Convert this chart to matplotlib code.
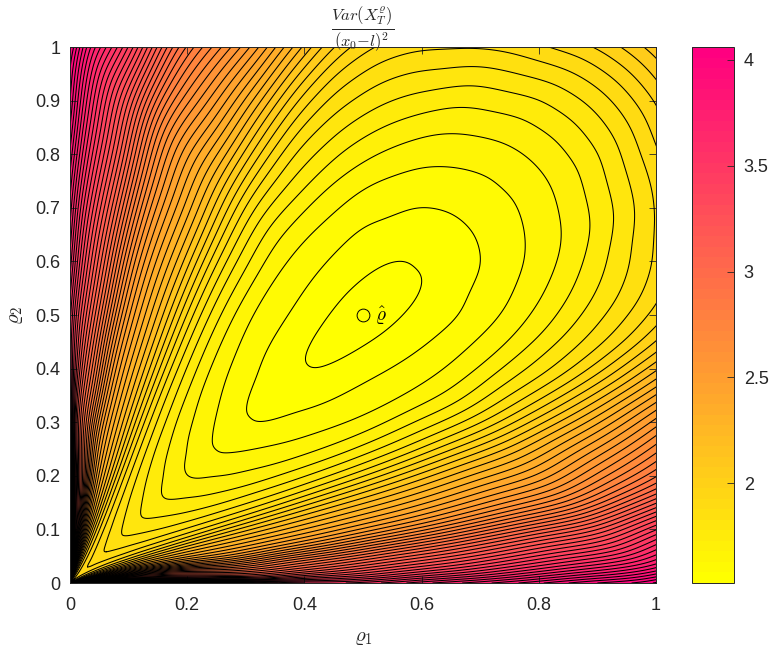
import numpy as np
import matplotlib
matplotlib.use('Agg')
import matplotlib.pyplot as plt
from matplotlib.colors import LinearSegmentedColormap, Normalize
from matplotlib.cm import ScalarMappable

plt.rcParams['font.family'] = ['Liberation Sans', 'DejaVu Sans']
plt.rcParams['mathtext.fontset'] = 'cm'

# values read along rays from the origin: mean of rho1, rho2 across,
# |rho2-rho1|/(rho1+rho2) down. the picture is close to mirror symmetric
mean_rho = [0, .03, .06, .1, .15, .2, .25, .3, .35, .4, .45, .5, .55, .6, .65, .7, .75, .8, .85, .9, .95, 1]
spread = [0, .03, .06, .1, .15, .2, .25, .3, .35, .4, .5, .6, .7, .8, .9, .95, 1]

r00 = [2.005,1.950,1.898,1.834,1.763,1.701,1.649,1.606,1.573,1.552,1.538,1.530,1.538,1.555,1.585,1.620,1.662,1.715,1.785,1.875,1.990,2.129]
r03 = [2.007,1.952,1.900,1.836,1.765,1.703,1.651,1.608,1.576,1.555,1.541,1.534,1.541,1.557,1.587,1.622,1.664,1.718,1.789,1.880,1.996,2.136]
r06 = [2.011,1.956,1.905,1.841,1.771,1.709,1.658,1.616,1.585,1.565,1.553,1.546,1.551,1.567,1.594,1.629,1.672,1.727,1.800,1.895,2.013,2.156]
r10 = [2.021,1.966,1.914,1.851,1.782,1.722,1.671,1.632,1.603,1.583,1.578,1.572,1.578,1.590,1.610,1.645,1.690,1.750,1.830,1.930,2.055,2.204]
r15 = [2.034,1.980,1.928,1.866,1.798,1.739,1.690,1.652,1.624,1.607,1.600,1.597,1.600,1.611,1.640,1.677,1.725,1.790,1.875,1.980,2.120,2.290]
r20 = [2.051,1.997,1.946,1.885,1.818,1.761,1.715,1.677,1.650,1.632,1.625,1.625,1.635,1.652,1.683,1.725,1.780,1.850,1.935,2.050,2.200,2.380]
r25 = [2.074,2.020,1.969,1.909,1.845,1.790,1.746,1.711,1.685,1.668,1.662,1.665,1.680,1.705,1.740,1.785,1.840,1.910,2.005,2.130,2.290,2.480]
r30 = [2.104,2.051,2.001,1.943,1.881,1.830,1.790,1.758,1.734,1.721,1.718,1.720,1.745,1.775,1.810,1.855,1.910,1.985,2.085,2.220,2.380,2.570]
r35 = [2.144,2.091,2.042,1.986,1.929,1.882,1.845,1.818,1.799,1.790,1.790,1.796,1.825,1.855,1.895,1.945,2.010,2.090,2.200,2.340,2.510,2.710]
r40 = [2.197,2.145,2.097,2.044,1.992,1.951,1.920,1.899,1.885,1.881,1.886,1.897,1.930,1.970,2.020,2.085,2.160,2.260,2.390,2.550,2.740,2.950]
r50 = [2.335,2.285,2.241,2.197,2.158,2.131,2.117,2.111,2.111,2.122,2.140,2.163,2.220,2.290,2.380,2.480,2.600,2.750,2.92,3.12,3.34,3.60]
r60 = [2.60,2.53,2.45,2.37,2.316,2.303,2.304,2.313,2.325,2.350,2.381,2.415,2.508,2.615,2.744,2.889,3.04,3.22,3.42,3.65,3.91,4.2]
r70 = [2.85,2.80,2.72,2.62,2.506,2.509,2.527,2.555,2.584,2.626,2.67,2.72,2.84,2.98,3.145,3.32,3.51,3.74,3.97,4.25,4.55,4.9]
r80 = [3.30,3.20,3.05,2.92,2.774,2.802,2.846,2.899,2.949,3.014,3.08,3.149,3.311,3.48,3.67,3.86,4.05,4.25,4.5,4.8,5.1,5.4]
r90 = [3.80,3.75,3.45,3.20,3.04,3.077,3.145,3.222,3.293,3.381,3.465,3.554,3.754,3.98,4.2,4.4,4.7,4.9,5.2,5.5,5.8,6.1]
r95 = [4.40,4.40,4.00,3.55,3.25,3.26,3.313,3.404,3.487,3.587,3.682,3.782,4.00,4.3,4.5,4.8,5.0,5.3,5.6,5.9,6.2,6.5]
r100 = [5.50,5.50,5.00,4.30,3.70,3.50,3.52,3.63,3.73,3.84,3.95,4.06,4.31,4.5,4.8,5.0,5.3,5.6,5.9,6.2,6.5,6.8]

half = np.array([r00, r03, r06, r10, r15, r20, r25, r30, r35, r40, r50, r60, r70, r80, r90, r95, r100])

x_ticks = [0, .2, .4, .6, .8, 1]
x_labels = ['0', '0.2', '0.4', '0.6', '0.8', '1']
y_ticks = [0, .1, .2, .3, .4, .5, .6, .7, .8, .9, 1]
y_labels = ['0', '0.1', '0.2', '0.3', '0.4', '0.5', '0.6', '0.7', '0.8', '0.9', '1']
cb_ticks = [2, 2.5, 3, 3.5, 4]
cb_labels = ['2', '2.5', '3', '3.5', '4']
opt_point = (.5, .5)
vmin = 1.53
vmax = 4.06


def spline_matrix(xs, xf):
    # natural cubic spline as a matrix from knot values to values at xf
    n = len(xs)
    h = np.diff(xs)
    A = np.zeros((n, n))
    B = np.zeros((n, n))
    A[0, 0] = A[-1, -1] = 1
    for i in range(1, n - 1):
        A[i, i - 1:i + 2] = h[i - 1], 2 * (h[i - 1] + h[i]), h[i]
        B[i, i - 1:i + 2] = 6 / h[i - 1], -6 / h[i - 1] - 6 / h[i], 6 / h[i]
    D2 = np.linalg.solve(A, B)
    k = np.clip(np.searchsorted(xs, xf) - 1, 0, n - 2)
    t = (xf - xs[k]) / h[k]
    S = np.zeros((len(xf), n))
    for j in range(len(xf)):
        S[j, k[j]] += 1 - t[j]
        S[j, k[j] + 1] += t[j]
        S[j] += h[k[j]] ** 2 / 6 * (((1 - t[j]) ** 3 - (1 - t[j])) * D2[k[j]] + (t[j] ** 3 - t[j]) * D2[k[j] + 1])
    return S


# mirror the table across the diagonal
d = np.array(spread)
d_all = np.concatenate([-d[:0:-1], d])
Z = np.vstack([half[:0:-1], half])
m = np.array(mean_rho)

# contour the table on a finer mesh so the level lines come out round
d_fine = np.linspace(-1, 1, 801)
m_fine = np.linspace(0, 1, 401)
Zf = spline_matrix(d_all, d_fine) @ Z @ spline_matrix(m, m_fine).T
Mf, Df = np.meshgrid(m_fine, d_fine)
Xf = Mf * (1 - Df)
Yf = Mf * (1 + Df)

cmap = LinearSegmentedColormap.from_list('ypink', [(1, 1, 0), (1, 0, .5)], N=51)
norm = Normalize(vmin, vmax)
levels = np.arange(1.55, 6.5, .05)
dark = '#262626'

fig = plt.figure(figsize=(7.82, 6.53), dpi=100)
W, H = 782., 653.
ax = fig.add_axes([70 / W, 1 - 583 / H, 586 / W, 536 / H])
ax.contourf(Xf, Yf, Zf, levels=np.concatenate([[1.0], levels, [9]]), cmap=cmap, norm=norm)
ax.contour(Xf, Yf, Zf, levels=levels, colors='k', linewidths=.75)
ax.plot([opt_point[0]], [opt_point[1]], 'o', mfc='none', mec='k', ms=9.2, mew=.7)
ax.text(opt_point[0] + .02, opt_point[1] - .002, r'$\hat{\varrho}$', fontsize=14, va='center', color='k')

ax.set_xlim(0, 1)
ax.set_ylim(0, 1)
ax.set_xticks(x_ticks)
ax.set_xticklabels(x_labels)
ax.set_yticks(y_ticks)
ax.set_yticklabels(y_labels)
ax.tick_params(direction='in', top=True, right=True, length=5, width=.6, color=dark,
               labelcolor=dark, labelsize=13, pad=7)
ax.tick_params(axis='x', pad=10)
for s in ax.spines.values():
    s.set_linewidth(.7)
    s.set_color(dark)
ax.set_xlabel(r'$\varrho_1$', fontsize=15, color=dark, labelpad=10)
ax.set_ylabel(r'$\varrho_2$', fontsize=15, color=dark, labelpad=7)
ax.set_title(r'$\frac{Var(X_T^{\varrho})}{(x_0{-}l)^2}$', fontsize=17, color=dark, pad=9)

cax = fig.add_axes([692 / W, 1 - 583 / H, 42 / W, 536 / H])
cb = fig.colorbar(ScalarMappable(norm=norm, cmap=cmap), cax=cax, ticks=cb_ticks)
cb.ax.set_yticklabels(cb_labels)
cb.ax.tick_params(direction='in', length=5, width=.6, color=dark, labelcolor=dark, labelsize=13, pad=7)
cb.outline.set_linewidth(.7)
cb.outline.set_edgecolor(dark)

fig.savefig('out.png', dpi=100)
